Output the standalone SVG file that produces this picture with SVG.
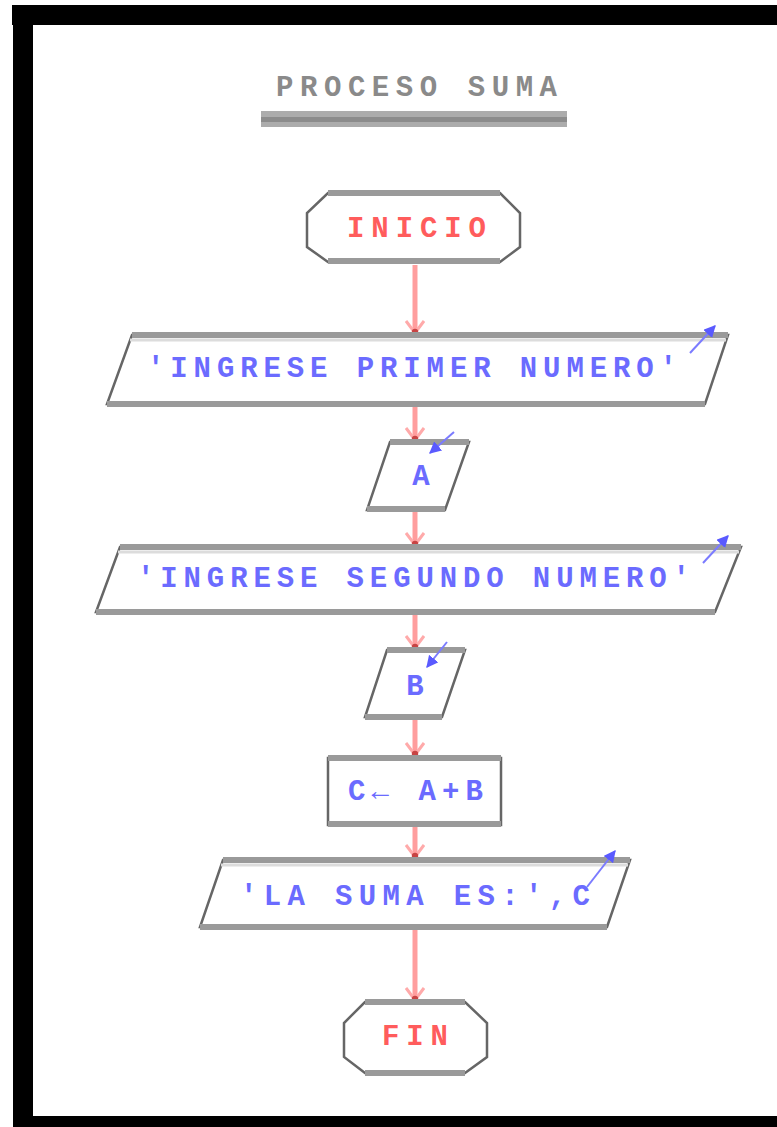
<svg xmlns="http://www.w3.org/2000/svg" width="777" height="1127" viewBox="0 0 777 1127">
<defs>
<style>
.txt{font-family:"Liberation Mono","DejaVu Sans Mono",monospace;font-weight:bold;font-size:29px;text-anchor:middle}
.blue{fill:#6b6bff}
.red{fill:#ff5c5c}
.shape{fill:#fff;stroke:#666;stroke-width:2.5;stroke-linejoin:miter}
.edge{stroke:#9a9a9a;stroke-width:6}
.edgel{stroke:#dcdcdc;stroke-width:3}
.conn{stroke:#ff9e9e;stroke-width:5;fill:none}
.io{stroke:#7b7bff;stroke-width:2;fill:none}
</style>
<marker id="chev" viewBox="0 0 16 20" refX="14" refY="10" markerWidth="16" markerHeight="20" markerUnits="userSpaceOnUse" orient="auto">
<path d="M1,1 L13,10 L1,19" fill="none" stroke="#ffaaaa" stroke-width="3"/>
<circle cx="12" cy="10" r="3.2" fill="#c84444"/>
</marker>
<marker id="ioarr" viewBox="0 0 10 10" refX="9" refY="5" markerWidth="12" markerHeight="12" markerUnits="userSpaceOnUse" orient="auto">
<path d="M0,0 L10,5 L0,10 z" fill="#5a5aff"/>
</marker>
</defs>
<rect width="777" height="1127" fill="#fff"/>
<!-- frame -->
<rect x="12" y="5" width="765" height="20" fill="#000"/>
<rect x="13" y="5" width="20" height="1122" fill="#000"/>
<rect x="13" y="1116" width="764" height="11" fill="#000"/>

<!-- title -->
<g id="title">
<text class="txt" x="416.5" y="96" textLength="281" lengthAdjust="spacing" style="fill:#8a8a8a">PROCESO SUMA</text>
<rect x="261" y="111" width="306" height="16" fill="#acacac"/>
<rect x="261" y="117" width="306" height="5" fill="#8c8c8c"/>
</g>

<!-- connectors -->
<g id="connectors">
<line class="conn" x1="415" y1="265" x2="415" y2="334" marker-end="url(#chev)"/>
<line class="conn" x1="415" y1="407" x2="415" y2="441" marker-end="url(#chev)"/>
<line class="conn" x1="415" y1="512" x2="415" y2="546" marker-end="url(#chev)"/>
<line class="conn" x1="415" y1="615" x2="415" y2="649" marker-end="url(#chev)"/>
<line class="conn" x1="415" y1="720" x2="415" y2="756" marker-end="url(#chev)"/>
<line class="conn" x1="415" y1="827" x2="415" y2="858" marker-end="url(#chev)"/>
<line class="conn" x1="415" y1="930" x2="415" y2="1001" marker-end="url(#chev)"/>
</g>

<g id="inicio">
<polygon class="shape" points="328,193 500,193 520,213 520,247 500,262 328,262 307,247 307,213"/>
<line class="edge" x1="328" y1="193" x2="500" y2="193"/>
<line class="edge" x1="328" y1="261" x2="500" y2="261"/>
<text class="txt red" x="416.5" y="237" textLength="139" lengthAdjust="spacing">INICIO</text>
</g>

<g id="out1">
<polygon class="shape" points="132,335 728,335 705,404 107,404"/>
<line class="edge" x1="132" y1="335" x2="728" y2="335"/>
<line class="edgel" x1="130" y1="340" x2="726" y2="340"/>
<line class="edge" x1="107" y1="404" x2="705" y2="404"/>
<text class="txt blue" x="412" y="377" textLength="530" lengthAdjust="spacing">'INGRESE PRIMER NUMERO'</text>
<line class="io" x1="690" y1="353" x2="715" y2="326" marker-end="url(#ioarr)"/>
</g>

<g id="inA">
<polygon class="shape" points="390,442 469,442 445,510 367,510"/>
<line class="edge" x1="390" y1="442" x2="469" y2="442"/>
<line class="edge" x1="367" y1="509" x2="445" y2="509"/>
<text class="txt blue" x="421" y="485">A</text>
<line class="io" x1="454" y1="432" x2="430" y2="453" marker-end="url(#ioarr)"/>
</g>

<g id="out2">
<polygon class="shape" points="120,547 741,547 715,612 96,612"/>
<line class="edge" x1="120" y1="547" x2="741" y2="547"/>
<line class="edgel" x1="118" y1="552" x2="739" y2="552"/>
<line class="edge" x1="96" y1="612" x2="715" y2="612"/>
<text class="txt blue" x="413.5" y="587" textLength="553" lengthAdjust="spacing">'INGRESE SEGUNDO NUMERO'</text>
<line class="io" x1="703" y1="563" x2="728" y2="536" marker-end="url(#ioarr)"/>
</g>

<g id="inB">
<polygon class="shape" points="387,650 465,650 442,717 365,717"/>
<line class="edge" x1="387" y1="650" x2="465" y2="650"/>
<line class="edge" x1="365" y1="717" x2="442" y2="717"/>
<text class="txt blue" x="415" y="695">B</text>
<line class="io" x1="447" y1="642" x2="427" y2="667" marker-end="url(#ioarr)"/>
</g>

<g id="assign">
<rect class="shape" x="328" y="758" width="173" height="67"/>
<line class="edge" x1="328" y1="758" x2="501" y2="758"/>
<line class="edge" x1="328" y1="824" x2="501" y2="824"/>
<text class="txt blue" x="415.5" y="800" textLength="135" lengthAdjust="spacing">C← A+B</text>
</g>

<g id="out3">
<polygon class="shape" points="223,860 630,860 607,927 200,927"/>
<line class="edge" x1="223" y1="860" x2="630" y2="860"/>
<line class="edgel" x1="221" y1="865" x2="628" y2="865"/>
<line class="edge" x1="200" y1="927" x2="607" y2="927"/>
<text class="txt blue" x="415" y="905" textLength="350" lengthAdjust="spacing">'LA SUMA ES:',C</text>
<line class="io" x1="587" y1="887" x2="615" y2="851" marker-end="url(#ioarr)"/>
</g>

<g id="fin">
<polygon class="shape" points="365,1002 465,1002 487,1023 487,1057 465,1073 365,1073 344,1057 344,1023"/>
<line class="edge" x1="365" y1="1002" x2="465" y2="1002"/>
<line class="edge" x1="365" y1="1073" x2="465" y2="1073"/>
<text class="txt red" x="415" y="1045" textLength="66" lengthAdjust="spacing">FIN</text>
</g>
</svg>
